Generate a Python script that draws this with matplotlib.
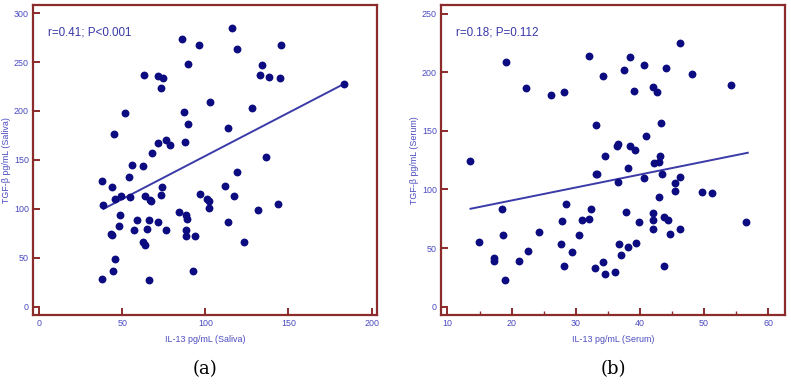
import numpy as np
import matplotlib
matplotlib.use("Agg")
import matplotlib.pyplot as plt
from matplotlib.ticker import MultipleLocator

# (a) saliva
saliva_il13 = [37.6, 43.8, 44.9, 51.7, 54.1, 55.7, 62.4, 63.1, 68.0, 71.2, 71.2, 74.2,
               73.4, 73.8, 76.2, 78.8, 86.1, 86.9, 87.9, 89.3, 89.7, 96.3, 102.8, 111.8,
               113.8, 116.0, 118.8, 118.8, 128.3, 132.7, 133.9, 136.3, 138.5, 144.8, 145.6, 183.2,
               38.6, 45.5, 48.9, 54.5, 63.8, 66.6, 67.4, 73.0, 96.5, 101.1, 102.2, 101.9,
               117.4, 131.9, 143.4, 113.6, 48.3, 47.9, 58.7, 56.9, 65.0, 66.2, 71.6, 76.2,
               83.8, 88.5, 88.7, 88.5, 88.3, 93.7, 43.2, 44.0, 62.7, 63.9, 123.0, 45.7,
               44.5, 37.8, 66.2, 92.3]
saliva_tgf = [128.8, 122.4, 176.9, 197.8, 132.9, 145.2, 144.2, 236.9, 157.5, 167.1, 235.6, 233.5,
              223.9, 122.4, 170.5, 165.3, 273.7, 199.4, 168.7, 186.5, 248.5, 267.9, 209.3, 123.4,
              182.7, 284.3, 263.2, 138.0, 202.9, 236.6, 246.8, 153.4, 234.6, 233.8, 267.3, 227.4,
              104.0, 109.8, 113.5, 112.5, 113.5, 109.1, 108.4, 114.2, 114.9, 110.1, 108.4, 101.2,
              113.5, 98.9, 105.0, 86.6, 94.1, 82.5, 88.3, 78.4, 79.1, 89.0, 86.6, 78.4,
              96.5, 93.5, 90.0, 78.7, 72.6, 72.0, 74.3, 73.0, 66.5, 63.1, 66.2, 48.5,
              36.2, 28.6, 27.3, 36.2]
saliva_fit = (0.882, 65.9)      # slope, intercept
saliva_fit_range = (38.6, 183.2)

# (b) serum
serum_il13 = [13.5, 19.1, 22.2, 26.2, 28.2, 32.0, 33.2, 33.1, 33.3, 34.2, 34.5, 36.4,
              36.6, 36.6, 37.5, 38.4, 38.4, 38.2, 39.1, 39.2, 40.6, 40.6, 41.0, 42.0,
              42.7, 42.2, 43.0, 43.2, 43.3, 43.5, 44.1, 46.3, 46.2, 45.5, 45.4, 48.1,
              49.7, 51.3, 54.2, 42.9, 18.5, 28.5, 32.4, 37.9, 42.1, 14.9, 17.2, 17.3,
              18.9, 18.6, 21.2, 22.5, 24.3, 27.8, 27.7, 28.2, 29.4, 30.5, 31.0, 32.1,
              33.0, 34.3, 34.5, 36.1, 36.7, 37.1, 38.2, 39.4, 39.8, 42.0, 42.1, 43.7,
              44.4, 44.7, 46.2, 43.8, 56.6]
serum_tgf = [123.9, 208.4, 186.8, 180.6, 183.4, 213.9, 155.0, 113.6, 113.1, 196.8, 128.5, 137.3,
             139.0, 106.3, 201.6, 213.3, 136.7, 118.5, 184.0, 133.3, 205.9, 110.2, 145.6, 187.7,
             183.4, 123.0, 123.6, 128.7, 156.3, 113.1, 203.9, 224.7, 110.5, 105.1, 98.8, 198.2,
             98.0, 97.4, 189.4, 93.5, 83.2, 87.7, 83.2, 80.6, 80.0, 55.5, 41.6, 39.0,
             22.6, 61.0, 38.8, 47.8, 63.6, 73.2, 53.6, 34.5, 46.7, 61.0, 73.8, 74.9,
             33.1, 37.9, 28.2, 29.9, 53.3, 43.9, 51.3, 54.7, 72.4, 73.8, 66.4, 76.6,
             73.8, 62.1, 66.4, 34.5, 72.4]
serum_fit = (1.106, 68.5)
serum_fit_range = (13.6, 56.8)

FRAME = "#8b2b2b"
TEXT = "#4a4ac0"
DOT = "#0c0c80"
LINE = "#3a3aa8"

plt.rcParams["font.family"] = ["Liberation Sans", "DejaVu Sans"]

fig = plt.figure(figsize=(7.91, 3.84), dpi=100)


def panel(rect, x, y, fit, fit_range, xlim, ylim, xmajor, xminor, ymajor,
          xlabel, ylabel, note, tag):
    ax = fig.add_axes(rect)
    ax.scatter(x, y, s=32, color=DOT, zorder=3, linewidths=0)
    xs = np.array(fit_range)
    ax.plot(xs, fit[0] * xs + fit[1], color=LINE, lw=1.4, zorder=2)
    ax.set_xlim(*xlim)
    ax.set_ylim(*ylim)
    ax.xaxis.set_major_locator(MultipleLocator(xmajor))
    if xminor:
        ax.xaxis.set_minor_locator(MultipleLocator(xminor))
    ax.yaxis.set_major_locator(MultipleLocator(ymajor))
    for s in ax.spines.values():
        s.set_color(FRAME)
        s.set_linewidth(1.6)
    ax.tick_params(direction="in", length=5, width=1.4, color=FRAME,
                   labelcolor=TEXT, labelsize=6.4, top=False, right=False, pad=3)
    ax.tick_params(which="minor", direction="in", length=3, width=1.0, color=FRAME)
    ax.set_xlabel(xlabel, color=TEXT, fontsize=6.4, labelpad=5)
    ax.set_ylabel(ylabel, color=TEXT, fontsize=6.4, labelpad=2)
    ax.text(0.045, 0.91, note, transform=ax.transAxes, color=LINE, fontsize=8.4,
            va="center")
    ax.text(0.5, -0.175, tag, transform=ax.transAxes, ha="center", va="center",
            fontsize=13, family="DejaVu Serif")
    return ax


panel([33 / 791, 69 / 384, 344 / 791, 310 / 384], saliva_il13, saliva_tgf,
      saliva_fit, saliva_fit_range, (-3.8, 203.3), (-8.5, 308.3), 50, None, 50,
      "IL-13 pg/mL (Saliva)", "TGF-\u03b2 pg/mL (Saliva)", "r=0.41; P<0.001",
      "(a)")
panel([441 / 791, 69 / 384, 344 / 791, 310 / 384], serum_il13, serum_tgf,
      serum_fit, serum_fit_range, (9.0, 62.6), (-7.1, 257.4), 10, 5, 50,
      "IL-13 pg/mL (Serum)", "TGF-\u03b2 pg/mL (Serum)", "r=0.18; P=0.112",
      "(b)")

fig.savefig("out.png", dpi=100)
